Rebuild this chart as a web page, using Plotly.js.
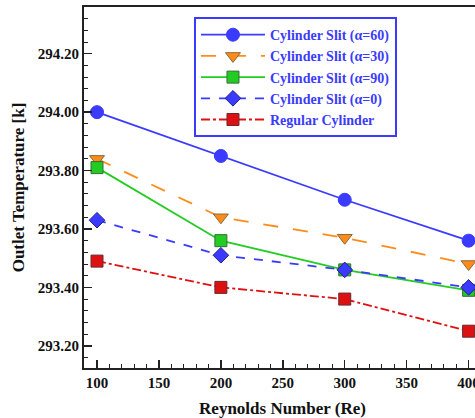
<!DOCTYPE html>
<html><head><meta charset="utf-8">
<script src="https://cdn.plot.ly/plotly-3.0.1.min.js"></script>
<style>html,body{margin:0;padding:0;overflow:hidden;background:#fff;}#chart{width:486px;height:418px;}</style>
</head><body><div id="chart"></div>
<script>
const reynolds = [100, 200, 300, 400];
const slit60 = [294.00, 293.85, 293.70, 293.56];
const slit30 = [293.84, 293.64, 293.57, 293.48];
const slit90 = [293.81, 293.56, 293.46, 293.39];
const slit0 = [293.63, 293.51, 293.46, 293.40];
const regular = [293.49, 293.40, 293.36, 293.25];
const names = ['Cylinder Slit (α=60)', 'Cylinder Slit (α=30)', 'Cylinder Slit (α=90)', 'Cylinder Slit (α=0)', 'Regular Cylinder'];
const yTicks = [293.20, 293.40, 293.60, 293.80, 294.00, 294.20];

const serif = '"Liberation Serif", "Times New Roman", serif';
const mk = (y, name, color, dash, symbol, size, lineColor) => ({
  x: reynolds, y: y, name: name, type: 'scatter', mode: 'lines+markers',
  line: {color: color, width: 1.8, dash: dash},
  marker: {color: color, symbol: symbol, size: size, line: {color: lineColor, width: 1}}
});
const data = [
  mk(slit60, names[0], '#3b3bff', 'solid', 'circle', 13, '#3b3bff'),
  mk(slit30, names[1], '#ff8c1a', 'longdash', 'triangle-down', 13, '#8a6a3a'),
  mk(slit90, names[2], '#22cc22', 'solid', 'square', 12, '#3a6a3a'),
  mk(slit0, names[3], '#3b3bff', 'dash', 'diamond', 12, '#22228a'),
  mk(regular, names[4], '#dd1111', 'dashdot', 'square', 12, '#6a2a2a')
];
const layout = {
  width: 486, height: 418,
  margin: {l: 84, r: 5, t: 7, b: 50},
  paper_bgcolor: '#fff', plot_bgcolor: '#fff',
  showlegend: true,
  font: {family: serif, color: '#111'},
  xaxis: {
    range: [89.5, 410], tickvals: [100, 150, 200, 250, 300, 350, 400],
    ticks: 'inside', ticklen: 8, tickwidth: 1.5, tickcolor: '#222',
    minor: {dtick: 10, ticks: 'inside', ticklen: 4, tickwidth: 1, tickcolor: '#222'},
    showline: true, linewidth: 2, linecolor: '#222', mirror: true,
    showgrid: false, zeroline: false,
    tickfont: {family: serif, size: 15, weight: 'bold', color: '#111'},
    title: {text: 'Reynolds Number (Re)', font: {family: serif, size: 17, weight: 'bold', color: '#111'}, standoff: 14}
  },
  yaxis: {
    range: [293.124, 294.36], tickvals: yTicks, tickformat: '.2f',
    ticks: 'inside', ticklen: 8, tickwidth: 1.5, tickcolor: '#222',
    minor: {dtick: 0.04, tick0: 293.2, ticks: 'inside', ticklen: 4, tickwidth: 1, tickcolor: '#222'},
    showline: true, linewidth: 2, linecolor: '#222', mirror: true,
    showgrid: false, zeroline: false,
    tickfont: {family: serif, size: 15, weight: 'bold', color: '#111'},
    title: {text: 'Outlet Temperature [k]', font: {family: serif, size: 17, weight: 'bold', color: '#111'}, standoff: 9}
  },
  legend: {
    x: 0.277, y: 0.972, xanchor: 'left', yanchor: 'top',
    bgcolor: '#fff', bordercolor: '#3b3bff', borderwidth: 2,
    font: {family: serif, size: 14, weight: 'bold', color: '#3b3bff'},
    tracegroupgap: 0, itemwidth: 64
  }
};
Plotly.newPlot('chart', data, layout, {displayModeBar: false, staticPlot: true});
</script></body></html>
